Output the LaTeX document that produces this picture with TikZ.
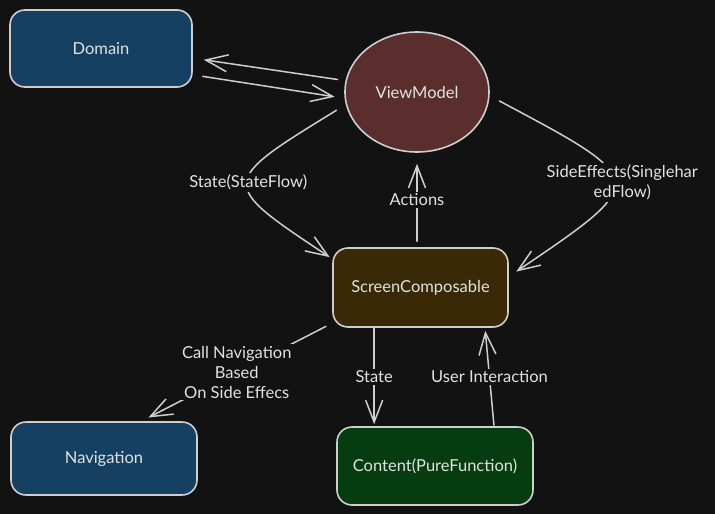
\documentclass[tikz,border=0pt]{standalone}
\usepackage{fontspec}
\setmainfont{Lato}
\usetikzlibrary{arrows.meta, shapes.geometric}
\definecolor{bg}{RGB}{18,18,18}
\definecolor{edge}{RGB}{206,206,206}
\definecolor{ink}{RGB}{226,226,226}
\definecolor{sea}{RGB}{21,64,97}
\definecolor{wine}{RGB}{91,46,46}
\definecolor{mud}{RGB}{58,41,7}
\definecolor{leaf}{RGB}{5,60,16}

\begin{document}
\begin{tikzpicture}[x=1pt, y=-1pt,
	every node/.style={text=ink, font=\fontsize{16.5}{20}\selectfont},
	box/.style={draw=edge, line width=1.6pt, rounded corners=15pt},
	flow/.style={draw=edge, line width=1.5pt, line cap=round, line join=round,
		-{Straight Barb[length=22pt, width=17pt]}},
	lbl/.style={fill=bg, inner sep=2pt, align=center}]
	\fill[bg] (0,0) rectangle (715,514);
	\useasboundingbox (0,0) rectangle (715,514);

	\node[box, fill=sea, minimum width=182pt, minimum height=77pt] (domain) at (101,48.5) {Domain};
	\node[ellipse, draw=edge, line width=1.6pt, fill=wine, minimum width=144pt, minimum height=120pt, inner sep=0pt] (viewmodel) at (417,92) {ViewModel};
	\node[box, fill=mud, minimum width=175pt, minimum height=79pt] (screen) at (420.5,287.5) {ScreenComposable};
	\node[box, fill=sea, minimum width=186pt, minimum height=73pt] (navigation) at (104,458.5) {Navigation};
	\node[box, fill=leaf, minimum width=196pt, minimum height=78pt] (content) at (435,466) {Content(PureFunction)};

	% viewmodel <-> domain
	\draw[flow, shorten <=8pt, shorten >=11pt] (viewmodel.171) -- (domain.-6);
	\draw[flow, shorten <=10pt, shorten >=10pt] (domain.-16) -- (viewmodel.185);

	% viewmodel <-> screen
	\draw[flow, shorten <=11pt, shorten >=3pt] (viewmodel.190) .. controls (218,183) .. (screen.162)
		node[lbl, pos=0.5] {State(StateFlow)};
	\draw[flow, shorten <=6pt, shorten >=11pt] (screen.north -| viewmodel.south) -- node[lbl] {Actions} (viewmodel.south);
	\draw[flow, shorten <=11pt, shorten >=9pt] (viewmodel.-3) .. controls (650,181) .. (screen.7)
		node[lbl, pos=0.5, xshift=10pt] {SideEffects(Singlehar\\edFlow)};

	% screen -> navigation, content
	\draw[flow, shorten <=7pt, shorten >=8pt] (screen.202) -- node[lbl] {Call Navigation\\Based\\On Side Effecs} (navigation.45);
	\draw[flow, shorten >=2pt] (screen.221) -- node[lbl] {State} (screen.221 |- content.north);
	\draw[flow, shorten <=1pt, shorten >=3pt] (content.34) -- node[lbl] {User Interaction} (screen.-32);
\end{tikzpicture}
\end{document}
